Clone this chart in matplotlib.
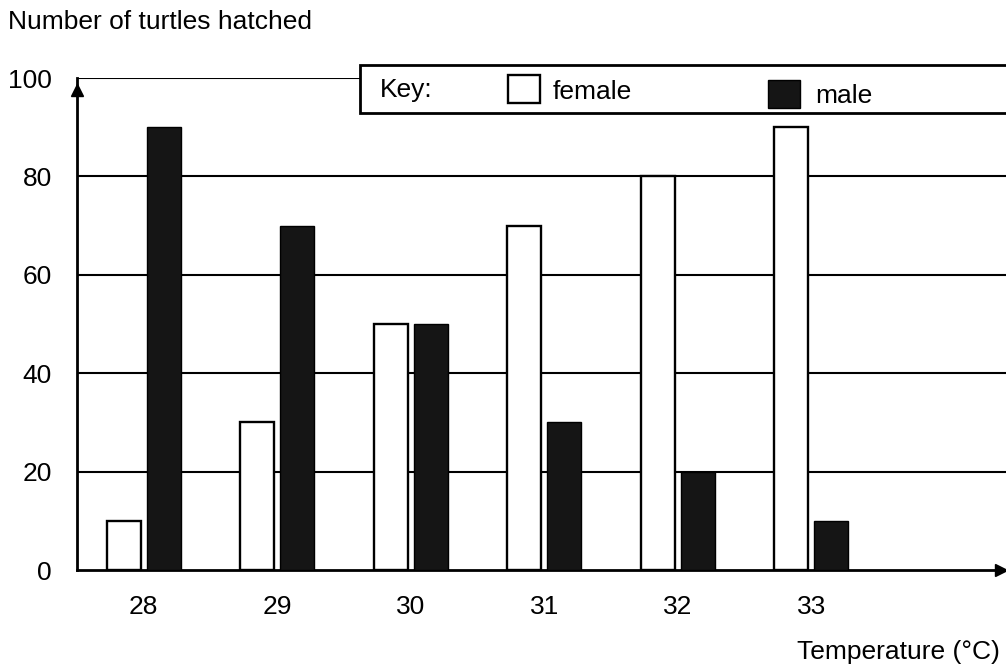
import numpy as np
import matplotlib.pyplot as plt
from matplotlib.patches import Rectangle

plt.rcParams['font.family'] = ['Liberation Sans', 'DejaVu Sans']

temps = [28, 29, 30, 31, 32, 33]
female = [10, 30, 50, 70, 80, 90]
male = [90, 70, 50, 30, 20, 10]
y_ticks = [0, 20, 40, 60, 80, 100]

fig = plt.figure(figsize=(10.06, 6.70), dpi=100)
ax = fig.add_axes([77 / 1006, 1 - 570 / 670, 929 / 1006, 492 / 670])

x = np.array(temps, dtype=float)
w = 0.255
off = 0.15

# gridlines first, bars on top
for yv in y_ticks[1:]:
    ax.axhline(yv, color='black', lw=1.5, zorder=1)

ax.bar(x - off, female, width=w, color='white', edgecolor='black', lw=1.7, zorder=3)
ax.bar(x + off, male, width=w, color='#151515', edgecolor='black', lw=1.0, zorder=3)

ax.set_xlim(27.5, 34.46)
ax.set_ylim(0, 100)

ax.set_xticks(x)
ax.set_xticklabels([str(t) for t in temps], fontsize=19)
ax.set_yticks(y_ticks)
ax.set_yticklabels([str(v) for v in y_ticks], fontsize=19)
ax.tick_params(axis='both', length=0)
ax.tick_params(axis='x', pad=18)
ax.tick_params(axis='y', pad=18)

for s in ['top', 'right']:
    ax.spines[s].set_visible(False)
ax.spines['left'].set_linewidth(2)
ax.spines['bottom'].set_linewidth(2)

# axis arrows
ax.plot([0], [0.975], marker='^', color='black', markersize=8, transform=ax.transAxes, clip_on=False, zorder=5)
ax.plot([0.995], [0], marker='>', color='black', markersize=9, transform=ax.transAxes, clip_on=False, zorder=5)

fig.text(8 / 1006, 1 - 22 / 670, 'Number of turtles hatched', fontsize=19, va='center', ha='left')
fig.text(1000 / 1006, 1 - 652 / 670, 'Temperature (°C)', fontsize=19, va='center', ha='right')

# key box
fig.patches.append(Rectangle((360 / 1006, 1 - 113 / 670), 660 / 1006, 48 / 670,
                             transform=fig.transFigure, facecolor='white', edgecolor='black', lw=2, zorder=6))
fig.text(380 / 1006, 1 - 90 / 670, 'Key:', fontsize=19, va='center', ha='left', zorder=7)
fig.patches.append(Rectangle((508 / 1006, 1 - 103 / 670), 32 / 1006, 28 / 670,
                             transform=fig.transFigure, facecolor='white', edgecolor='black', lw=1.7, zorder=7))
fig.text(553 / 1006, 1 - 92 / 670, 'female', fontsize=19, va='center', ha='left', zorder=7)
fig.patches.append(Rectangle((768 / 1006, 1 - 108 / 670), 32 / 1006, 28 / 670,
                             transform=fig.transFigure, facecolor='#151515', edgecolor='black', lw=1.0, zorder=7))
fig.text(815 / 1006, 1 - 96 / 670, 'male', fontsize=19, va='center', ha='left', zorder=7)

fig.savefig('out.png', dpi=100)
